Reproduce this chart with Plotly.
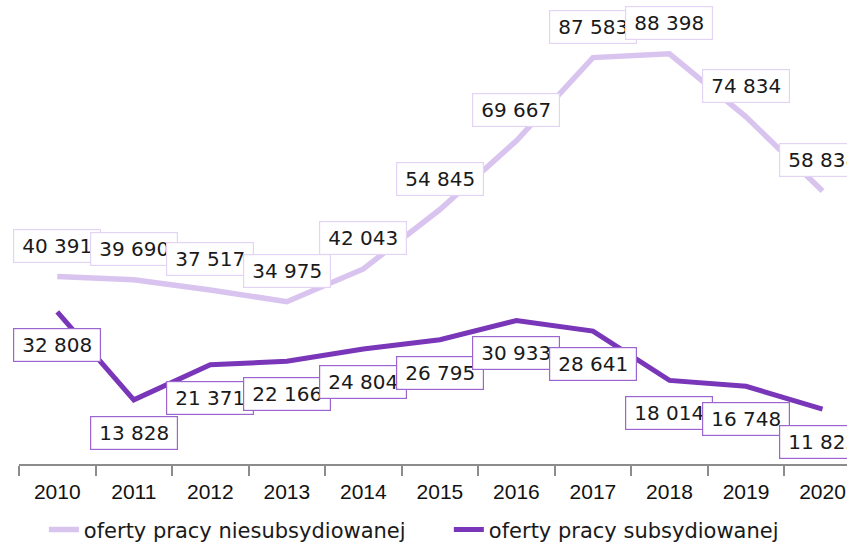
import plotly.graph_objects as go

years = ["2010", "2011", "2012", "2013", "2014", "2015", "2016", "2017", "2018", "2019", "2020"]
niesubsydiowane = [40391, 39690, 37517, 34975, 42043, 54845, 69667, 87583, 88398, 74834, 58838]
subsydiowane = [32808, 13828, 21371, 22166, 24804, 26795, 30933, 28641, 18014, 16748, 11822]

name_nies = "oferty pracy niesubsydiowanej"
name_sub = "oferty pracy subsydiowanej"

color_nies = "#d9c4ef"
color_sub = "#7a36b8"
border_nies = "#e3d4f6"
border_sub = "#9b66d0"

label_font = dict(family="DejaVu Sans", size=20, color="#1a1a1a")


def fmt(v):
    return f"{v:,}".replace(",", " ")


fig = go.Figure()
fig.add_trace(go.Scatter(
    x=years, y=niesubsydiowane, mode="lines", name=name_nies,
    line=dict(color=color_nies, width=5.5),
))
fig.add_trace(go.Scatter(
    x=years, y=subsydiowane, mode="lines", name=name_sub,
    line=dict(color=color_sub, width=5),
))

# value boxes: category index positions on the x axis
annotations = []
for i, v in enumerate(niesubsydiowane):
    annotations.append(dict(
        x=i, y=v, xref="x", yref="y", text=fmt(v), showarrow=False, yshift=31,
        font=label_font, bgcolor="white", bordercolor=border_nies,
        borderwidth=1.2, borderpad=4, width=78,
    ))
for i, v in enumerate(subsydiowane):
    annotations.append(dict(
        x=i, y=v, xref="x", yref="y", text=fmt(v), showarrow=False, yshift=-33,
        font=label_font, bgcolor="white", bordercolor=border_sub,
        borderwidth=1.2, borderpad=4, width=78,
    ))

fig.update_layout(
    width=847, height=543,
    margin=dict(l=19, r=0, t=0, b=79, autoexpand=False),
    paper_bgcolor="white", plot_bgcolor="white",
    showlegend=True,
    legend=dict(
        orientation="h", x=0.03, xanchor="left", y=-0.142, yanchor="middle",
        font=dict(family="DejaVu Sans", size=21, color="#1a1a1a"),
        entrywidth=360, traceorder="normal",
    ),
    annotations=annotations,
    xaxis=dict(
        type="category", range=[-0.5, 10.32], tickson="boundaries",
        showline=True, linecolor="#8c8c8c", linewidth=1.5,
        ticks="outside", ticklen=10, tickcolor="#8c8c8c", tickwidth=1.5,
        showgrid=False, zeroline=False,
        tickfont=dict(family="Liberation Sans", size=21, color="#111111"),
        ticklabelstandoff=8,
    ),
    yaxis=dict(
        range=[0, 100000], visible=False, showgrid=False, zeroline=False,
    ),
)

fig.write_html("out.html")
